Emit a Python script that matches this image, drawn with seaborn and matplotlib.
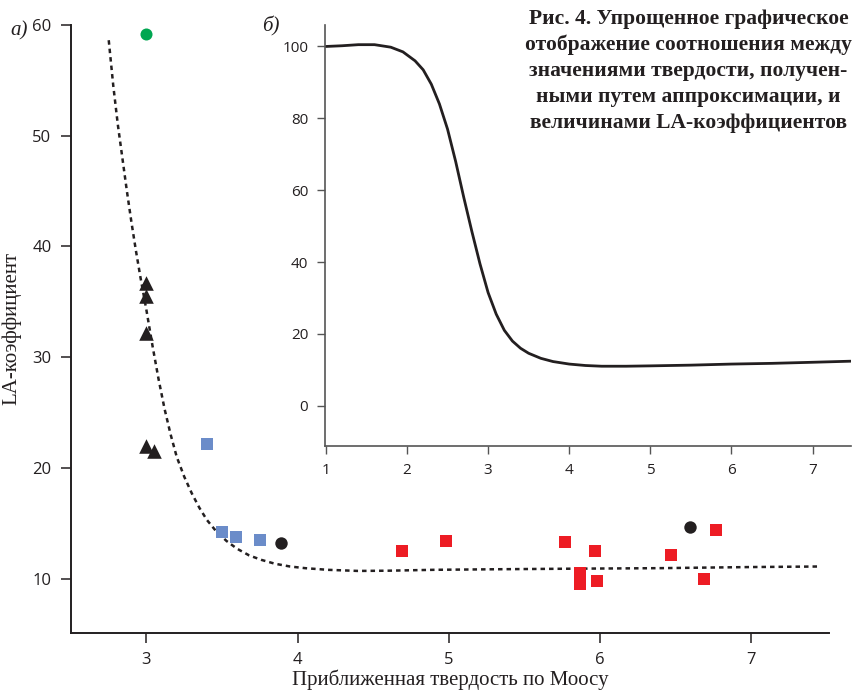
import numpy as np
import pandas as pd
import matplotlib
matplotlib.use("Agg")
import matplotlib.pyplot as plt
import seaborn as sns

# точки (твердость, LA-коэффициент)
green_x = [3.0]
green_y = [59.2]
tri_x = [3.0, 3.0, 3.0, 3.0, 3.05]
tri_y = [36.7, 35.5, 32.2, 22.0, 21.5]
blue_x = [3.40, 3.50, 3.59, 3.75]
blue_y = [22.2, 14.2, 13.8, 13.5]
black_x = [3.89, 6.60]
black_y = [13.2, 14.7]
red_x = [4.69, 4.98, 5.77, 5.97, 5.87, 5.87, 5.98, 6.47, 6.69, 6.77]
red_y = [12.5, 13.4, 13.3, 12.5, 10.5, 9.55, 9.8, 12.1, 10.0, 14.4]

# пунктирная кривая (а)
curve_x = [2.75, 2.78, 2.81, 2.84, 2.87, 2.90, 2.93, 2.96, 3.00, 3.04, 3.08, 3.12,
           3.16, 3.20, 3.25, 3.30, 3.35, 3.40, 3.46, 3.53, 3.60, 3.68, 3.76, 3.85,
           3.95, 4.05, 4.20, 4.40, 4.60, 4.90, 5.30, 5.80, 6.40, 7.00, 7.46]
curve_y = [58.6, 54.5, 51.0, 48.0, 45.0, 42.2, 39.6, 37.2, 34.2, 31.0, 28.0, 25.3,
           23.0, 21.0, 19.2, 17.7, 16.4, 15.3, 14.3, 13.4, 12.7, 12.1, 11.7, 11.35,
           11.1, 10.95, 10.8, 10.7, 10.72, 10.8, 10.85, 10.9, 10.95, 11.05, 11.1]

# кривая (б)
inset_x = [1.00, 1.20, 1.40, 1.60, 1.80, 1.95, 2.10, 2.20, 2.30, 2.40, 2.50, 2.60,
           2.70, 2.80, 2.90, 3.00, 3.10, 3.20, 3.30, 3.40, 3.50, 3.65, 3.80, 4.00,
           4.20, 4.40, 4.70, 5.00, 5.50, 6.00, 6.50, 7.00, 7.47]
inset_y = [100.0, 100.2, 100.5, 100.5, 99.8, 98.5, 96.0, 93.5, 89.5, 84.0, 77.0, 68.0,
           58.0, 48.5, 39.5, 31.5, 25.5, 21.0, 18.0, 16.0, 14.6, 13.2, 12.3, 11.6,
           11.2, 11.0, 11.0, 11.1, 11.3, 11.6, 11.8, 12.1, 12.4]

title_lines = ["Рис. 4. Упрощенное графическое",
               "отображение соотношения между",
               "значениями твердости, получен-",
               "ными путем аппроксимации, и",
               "величинами LA-коэффициентов"]

sns.set_style("ticks")
plt.rcParams["font.family"] = ["Open Sans", "DejaVu Sans"]
dark = "#231f20"

fig = plt.figure(figsize=(8.52, 6.92), dpi=100)
ax = fig.add_axes([0.0833, 0.0853, 0.890, 0.879])

sns.lineplot(x=curve_x, y=curve_y, sort=False, color=dark, lw=1.8,
             linestyle=(0, (1.8, 1.6)), ax=ax)

groups = [
    (green_x, green_y, "#00a651", "o", 75),
    (tri_x, tri_y, dark, "^", 110),
    (blue_x, blue_y, "#6b8cc9", "s", 64),
    (black_x, black_y, dark, "o", 80),
    (red_x, red_y, "#ed1c24", "s", 64),
]
for gx, gy, col, mk, sz in groups:
    sns.scatterplot(x=gx, y=gy, color=col, marker=mk, s=sz, linewidth=0,
                    ax=ax, zorder=3)

ax.set_xlim(2.5, 7.52)
ax.set_ylim(5.1, 60)
ax.set_xticks([3, 4, 5, 6, 7])
ax.set_yticks([10, 20, 30, 40, 50, 60])
sns.despine(ax=ax)
for s in ["left", "bottom"]:
    ax.spines[s].set_linewidth(1.4)
    ax.spines[s].set_color(dark)
ax.tick_params(length=7, width=1.1, color=dark, labelcolor=dark, labelsize=12, pad=7)
ax.set_xlabel("Приближенная твердость по Моосу", family="Liberation Serif",
              fontsize=15, color=dark, labelpad=1)
ax.set_ylabel("LA-коэффициент", family="Liberation Serif",
              fontsize=15, color=dark, labelpad=8)

# вставка (б)
ins = fig.add_axes([0.3815, 0.355, 0.617, 0.609])
ins.patch.set_alpha(0)
sns.lineplot(x=inset_x, y=inset_y, sort=False, color=dark, lw=2.0, ax=ins)
ins.set_xlim(0.99, 7.47)
ins.set_ylim(-11.3, 106)
ins.set_xticks([1, 2, 3, 4, 5, 6, 7])
ins.set_yticks([0, 20, 40, 60, 80, 100])
sns.despine(ax=ins)
for s in ["left", "bottom"]:
    ins.spines[s].set_linewidth(1.2)
    ins.spines[s].set_color("#555555")
ins.tick_params(length=6, width=1.0, color="#555555", labelcolor=dark, labelsize=11, pad=6)
ins.set_xlabel("")
ins.set_ylabel("")

fig.text(0.012, 0.955, "а)", family="Liberation Serif", style="italic",
         fontsize=15, color=dark, va="center")
fig.text(0.308, 0.962, "б)", family="Liberation Serif", style="italic",
         fontsize=15, color=dark, va="center")

for i, line in enumerate(title_lines):
    fig.text(0.808, 0.973 - i * 0.0376, line, family="Liberation Serif",
             weight="bold", fontsize=15.5, color=dark, ha="center", va="center")

fig.savefig("out.png", dpi=100)
